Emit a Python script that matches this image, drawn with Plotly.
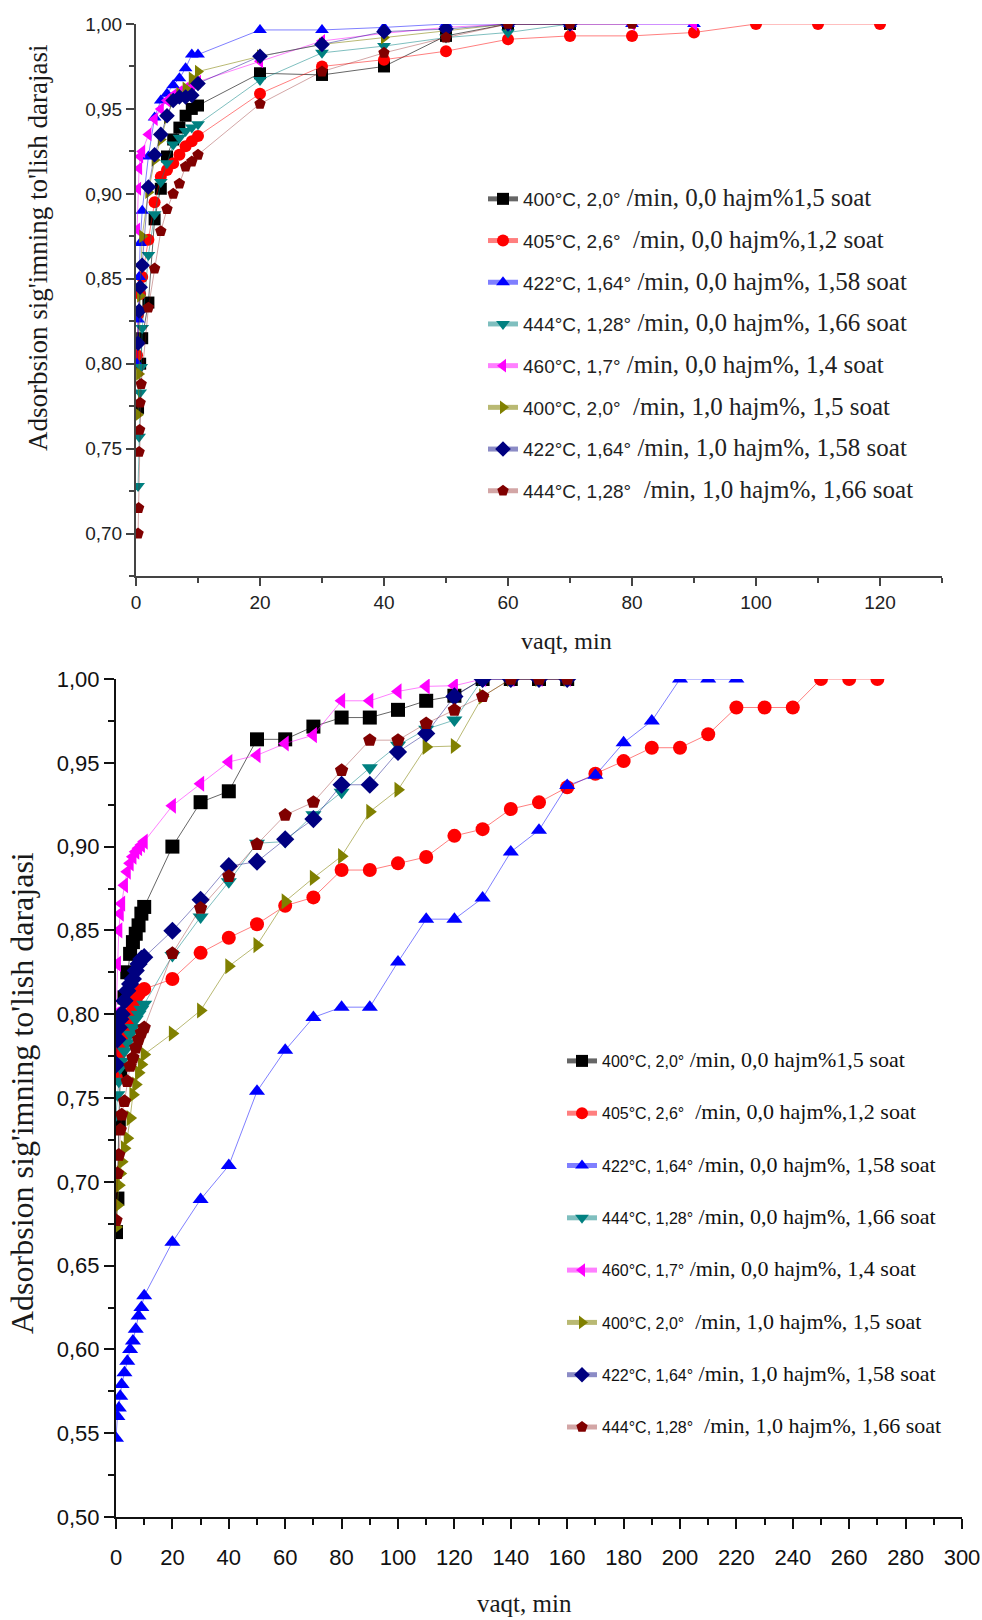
import plotly.graph_objects as go

# ---------------- data : top panel ----------------
t_black_x = [0.33, 0.67, 1, 2, 3, 4, 5, 6, 7, 8, 9, 10, 20, 30, 40, 50, 60, 70]
t_black_y = [0.774, 0.800, 0.815, 0.836, 0.885, 0.903, 0.922, 0.932, 0.939, 0.946, 0.950, 0.952, 0.971, 0.970, 0.975, 0.993, 1.0, 1.0]
t_red_x = [0.17, 0.33, 0.67, 1, 2, 3, 4, 5, 6, 7, 8, 9, 10, 20, 30, 40, 50, 60, 70, 80, 90, 100, 110, 120]
t_red_y = [0.805, 0.829, 0.841, 0.851, 0.873, 0.895, 0.910, 0.914, 0.918, 0.923, 0.928, 0.931, 0.934, 0.959, 0.975, 0.979, 0.984, 0.991, 0.993, 0.993, 0.995, 1.0, 1.0, 1.0]
t_blue_x = [0.17, 0.33, 0.5, 0.67, 1, 2, 3, 4, 5, 6, 7, 8, 9, 10, 20, 30, 40, 50, 60, 70, 80, 90]
t_blue_y = [0.800, 0.826, 0.851, 0.871, 0.890, 0.922, 0.945, 0.955, 0.959, 0.964, 0.968, 0.974, 0.982, 0.982, 0.9965, 0.9965, 0.998, 1.0, 1.0, 1.0, 1.0, 1.0]
t_teal_x = [0.33, 0.5, 0.67, 0.83, 1, 2, 3, 4, 5, 6, 7, 8, 9, 10, 20, 30, 40, 50, 60, 70]
t_teal_y = [0.728, 0.757, 0.783, 0.798, 0.821, 0.864, 0.888, 0.907, 0.918, 0.929, 0.933, 0.937, 0.939, 0.941, 0.967, 0.983, 0.987, 0.992, 0.995, 1.0]
t_mag_x = [0.17, 0.33, 0.5, 0.67, 1, 2, 3, 4, 5, 6, 7, 8, 9, 10, 20, 30, 40, 50, 60, 70, 80, 90]
t_mag_y = [0.879, 0.903, 0.915, 0.922, 0.925, 0.935, 0.944, 0.950, 0.955, 0.958, 0.960, 0.962, 0.964, 0.966, 0.978, 0.990, 0.9945, 0.998, 1.0, 1.0, 1.0, 1.0]
t_olive_x = [0.33, 0.5, 0.67, 1, 2, 3, 4, 5, 6, 7, 8, 9, 10, 20, 30, 40, 50, 60, 70]
t_olive_y = [0.770, 0.794, 0.840, 0.875, 0.901, 0.920, 0.932, 0.945, 0.955, 0.959, 0.962, 0.968, 0.972, 0.981, 0.988, 0.992, 0.996, 1.0, 1.0]
t_navy_x = [0.33, 0.5, 0.67, 1, 2, 3, 4, 5, 6, 7, 8, 9, 10, 20, 30, 40, 50, 60, 70]
t_navy_y = [0.812, 0.831, 0.845, 0.858, 0.904, 0.923, 0.935, 0.946, 0.955, 0.957, 0.957, 0.958, 0.965, 0.981, 0.988, 0.9955, 0.997, 1.0, 1.0]
t_brown_x = [0.33, 0.42, 0.5, 0.58, 0.67, 0.83, 2, 3, 4, 5, 6, 7, 8, 9, 10, 20, 30, 40, 50, 60, 70, 80]
t_brown_y = [0.700, 0.715, 0.748, 0.761, 0.777, 0.788, 0.833, 0.856, 0.878, 0.891, 0.900, 0.906, 0.916, 0.919, 0.923, 0.953, 0.972, 0.983, 0.992, 1.0, 1.0, 1.0]

# ---------------- data : bottom panel ----------------
b_x160 = [0, 0.5, 1, 1.5, 2, 3, 4, 5, 6, 7, 8, 9, 10, 20, 30, 40, 50, 60, 70, 80, 90, 100, 110, 120, 130, 140, 150, 160]
b_x220 = [0, 0.5, 1, 1.5, 2, 3, 4, 5, 6, 7, 8, 9, 10, 20, 30, 40, 50, 60, 70, 80, 90, 100, 110, 120, 130, 140, 150, 160,
          170, 180, 190, 200, 210, 220]
b_x270 = [0, 0.5, 1, 1.5, 2, 3, 4, 5, 6, 7, 8, 9, 10, 20, 30, 40, 50, 60, 70, 80, 90, 100, 110, 120, 130, 140, 150, 160,
          170, 180, 190, 200, 210, 220, 230, 240, 250, 260, 270]
b_black_y = [0.670, 0.690, 0.735, 0.765, 0.790, 0.810, 0.825, 0.836, 0.843, 0.848, 0.853, 0.860, 0.864,
             0.900, 0.9265, 0.933, 0.964, 0.964, 0.9716, 0.977, 0.977, 0.9816, 0.987, 0.990, 1.0, 1.0, 1.0, 1.0]
b_red_y = [0.762, 0.770, 0.776, 0.780, 0.785, 0.790, 0.795, 0.800, 0.805, 0.809, 0.812, 0.814, 0.815,
           0.821, 0.8366, 0.8456, 0.8537, 0.8647, 0.8697, 0.886, 0.886, 0.890, 0.8938, 0.9064, 0.9104, 0.9224, 0.9264,
           0.9354, 0.9435, 0.951, 0.959, 0.959, 0.967, 0.983, 0.983, 0.983, 1.0, 1.0, 1.0]
b_blue_y = [0.547, 0.560, 0.565, 0.572, 0.579, 0.586, 0.593, 0.600, 0.605, 0.612, 0.620, 0.625, 0.632,
            0.664, 0.6895, 0.7097, 0.754, 0.7785, 0.7981, 0.8042, 0.8042, 0.8312, 0.8567, 0.8567, 0.8693, 0.8968,
            0.9098, 0.9364, 0.9425, 0.962, 0.975, 1.0, 1.0, 1.0]
b_teal_y = [0.740, 0.752, 0.760, 0.768, 0.772, 0.778, 0.783, 0.788, 0.792, 0.797, 0.800, 0.803, 0.806,
            0.835, 0.858, 0.879, 0.902, 0.903, 0.919, 0.9325, 0.947, 0.9605, 0.970, 0.9755, 1.0, 1.0, 1.0, 1.0]
b_mag_y = [0.800, 0.830, 0.850, 0.860, 0.866, 0.877, 0.885, 0.890, 0.894, 0.897, 0.899, 0.901, 0.903,
           0.9244, 0.9375, 0.9505, 0.9545, 0.9615, 0.9665, 0.987, 0.987, 0.9926, 0.9956, 0.996, 1.0, 1.0, 1.0, 1.0]
b_olive_y = [0.673, 0.686, 0.698, 0.705, 0.712, 0.720, 0.726, 0.738, 0.752, 0.758, 0.765, 0.770, 0.776,
             0.7885, 0.8022, 0.8286, 0.8412, 0.8673, 0.8813, 0.8943, 0.9208, 0.9339, 0.9595, 0.960, 0.9896, 1.0, 1.0, 1.0]
b_navy_y = [0.770, 0.785, 0.792, 0.797, 0.800, 0.808, 0.814, 0.818, 0.821, 0.826, 0.830, 0.833, 0.834,
            0.8498, 0.8683, 0.8883, 0.891, 0.9044, 0.9164, 0.9369, 0.9369, 0.9565, 0.9675, 0.9896, 1.0, 1.0, 1.0, 1.0]
b_brown_y = [0.677, 0.705, 0.716, 0.731, 0.740, 0.748, 0.760, 0.769, 0.774, 0.780, 0.785, 0.789, 0.792,
             0.8363, 0.8633, 0.8823, 0.9014, 0.9188, 0.9265, 0.9455, 0.9635, 0.9635, 0.9735, 0.9815, 0.9896, 1.0, 1.0, 1.0]

# ---------------- labels ----------------
legend_head = ["400°C, 2,0°", "405°C, 2,6°", "422°C, 1,64°", "444°C, 1,28°",
               "460°C, 1,7°", "400°C, 2,0°", "422°C, 1,64°", "444°C, 1,28°"]
legend_tail = [" /min, 0,0 hajm%1,5 soat", "\u00a0 /min, 0,0 hajm%,1,2 soat", " /min, 0,0 hajm%, 1,58 soat",
               " /min, 0,0 hajm%, 1,66 soat", " /min, 0,0 hajm%, 1,4 soat", "\u00a0 /min, 1,0 hajm%, 1,5 soat",
               " /min, 1,0 hajm%, 1,58 soat", "\u00a0 /min, 1,0 hajm%, 1,66 soat"]
y_title = "Adsorbsion sig'imning to'lish darajasi"
x_title = "vaqt, min"
top_xticks = [0, 20, 40, 60, 80, 100, 120]
top_xticktext = ["0", "20", "40", "60", "80", "100", "120"]
top_yticks = [0.70, 0.75, 0.80, 0.85, 0.90, 0.95, 1.00]
top_yticktext = ["0,70", "0,75", "0,80", "0,85", "0,90", "0,95", "1,00"]
bot_xticks = [0, 20, 40, 60, 80, 100, 120, 140, 160, 180, 200, 220, 240, 260, 280, 300]
bot_xticktext = ["0", "20", "40", "60", "80", "100", "120", "140", "160", "180", "200", "220", "240", "260", "280", "300"]
bot_yticks = [0.50, 0.55, 0.60, 0.65, 0.70, 0.75, 0.80, 0.85, 0.90, 0.95, 1.00]
bot_yticktext = ["0,50", "0,55", "0,60", "0,65", "0,70", "0,75", "0,80", "0,85", "0,90", "0,95", "1,00"]

# ---------------- styles ----------------
COLORS = ["#000000", "#FF0000", "#0000FF", "#008080", "#FF00FF", "#808000", "#000080", "#800000"]
LINECOLORS = ["rgba(0,0,0,0.6)", "rgba(255,0,0,0.5)", "rgba(0,0,255,0.5)", "rgba(0,128,128,0.5)",
              "rgba(255,0,255,0.5)", "rgba(128,128,0,0.55)", "rgba(0,0,128,0.45)", "rgba(128,0,0,0.35)"]
SYMBOLS = ["square", "circle", "triangle-up", "triangle-down", "triangle-left", "triangle-right", "diamond", "pentagon"]
SANS = "Liberation Sans, Arial, sans-serif"
SERIF = "Liberation Serif, Times New Roman, serif"

top_series = [(t_black_x, t_black_y), (t_red_x, t_red_y), (t_blue_x, t_blue_y), (t_teal_x, t_teal_y),
              (t_mag_x, t_mag_y), (t_olive_x, t_olive_y), (t_navy_x, t_navy_y), (t_brown_x, t_brown_y)]
bot_series = [(b_x160, b_black_y), (b_x270, b_red_y), (b_x220, b_blue_y), (b_x160, b_teal_y),
              (b_x160, b_mag_y), (b_x160, b_olive_y), (b_x160, b_navy_y), (b_x160, b_brown_y)]

fig = go.Figure()
for i, (xs, ys) in enumerate(top_series):
    name = (legend_head[i] + '<span style="font-family:Liberation Serif;font-size:25px">'
            + legend_tail[i] + '</span>')
    fig.add_trace(go.Scatter(
        x=xs, y=ys, mode="lines+markers", name=name, xaxis="x", yaxis="y",
        legend="legend", legendgroup=f"t{i}",
        line=dict(color=LINECOLORS[i], width=1),
        marker=dict(symbol=SYMBOLS[i], size=12, color=COLORS[i], line=dict(width=0)),
    ))
for i, (xs, ys) in enumerate(bot_series):
    name = (legend_head[i] + '<span style="font-family:Liberation Serif;font-size:22px">'
            + legend_tail[i] + '</span>')
    fig.add_trace(go.Scatter(
        x=xs, y=ys, mode="lines+markers", name=name, xaxis="x2", yaxis="y2",
        legend="legend2", legendgroup=f"b{i}",
        line=dict(color=LINECOLORS[i], width=1),
        marker=dict(symbol=SYMBOLS[i], size=14, color=COLORS[i], line=dict(width=0)),
    ))

W, H = 982, 1620
AX = "#444444"

def px_x(p):
    return p / W

def px_y(p):
    return 1 - p / H

common_axis = dict(showline=True, linewidth=2, ticks="outside", tickwidth=2, automargin=False,
                   showgrid=False, zeroline=False, mirror=False, tickmode="array")

fig.update_layout(
    template="none",
    width=W, height=H, margin=dict(l=0, r=0, t=0, b=0, autoexpand=False),
    paper_bgcolor="white", plot_bgcolor="white",
    font=dict(family=SANS, size=19, color="#222222"),
    xaxis=dict(domain=[px_x(136), px_x(942)], range=[0, 130], anchor="y",
               linecolor=AX, tickcolor=AX, ticklen=8,
               tickvals=top_xticks, ticktext=top_xticktext,
               tickfont=dict(family=SANS, size=19, color="#222222"),
               minor=dict(ticks="outside", ticklen=5, tickwidth=2, tickcolor=AX,
                          tickvals=[10, 30, 50, 70, 90, 110, 130]),
               **common_axis),
    yaxis=dict(domain=[px_y(576), px_y(24)], range=[0.675, 1.0], anchor="x",
               linecolor=AX, tickcolor=AX, ticklen=8,
               tickvals=top_yticks, ticktext=top_yticktext,
               tickfont=dict(family=SANS, size=19, color="#222222"),
               minor=dict(ticks="outside", ticklen=5, tickwidth=2, tickcolor=AX,
                          tickvals=[0.675, 0.725, 0.775, 0.825, 0.875, 0.925, 0.975]),
               **common_axis),
    xaxis2=dict(domain=[px_x(116), px_x(962)], range=[0, 300], anchor="y2",
                linecolor="#111111", tickcolor="#111111", ticklen=10, ticklabelstandoff=10,
                tickvals=bot_xticks, ticktext=bot_xticktext,
                tickfont=dict(family=SANS, size=22, color="#111111"),
                minor=dict(ticks="outside", ticklen=6, tickwidth=2, tickcolor="#111111",
                           tickvals=[10, 30, 50, 70, 90, 110, 130, 150, 170, 190, 210, 230, 250, 270, 290]),
                **common_axis),
    yaxis2=dict(domain=[px_y(1517), px_y(679)], range=[0.5, 1.0], anchor="x2",
                linecolor="#111111", tickcolor="#111111", ticklen=10,
                tickvals=bot_yticks, ticktext=bot_yticktext,
                tickfont=dict(family=SANS, size=22, color="#111111"),
                minor=dict(ticks="outside", ticklen=6, tickwidth=2, tickcolor="#111111",
                           tickvals=[0.525, 0.575, 0.625, 0.675, 0.725, 0.775, 0.825, 0.875, 0.925, 0.975]),
                **common_axis),
    legend=dict(x=px_x(483), y=px_y(180), xanchor="left", yanchor="top",
                bgcolor="rgba(0,0,0,0)", borderwidth=0, tracegroupgap=14,
                font=dict(family=SANS, size=19, color="#222222"), itemsizing="constant"),
    legend2=dict(x=px_x(562), y=px_y(1044), xanchor="left", yanchor="top",
                 bgcolor="rgba(0,0,0,0)", borderwidth=0, tracegroupgap=28.5,
                 font=dict(family=SANS, size=16, color="#111111"), itemsizing="constant"),
    showlegend=True,
    annotations=[
        dict(text=y_title, x=px_x(38), y=px_y(248), xref="paper", yref="paper", showarrow=False,
             xanchor="center", yanchor="middle",
             textangle=-90, font=dict(family=SERIF, size=27, color="#1a1a1a")),
        dict(text=x_title, x=px_x(566), y=px_y(641), xref="paper", yref="paper", showarrow=False,
             xanchor="center", yanchor="middle",
             font=dict(family=SERIF, size=24, color="#1a1a1a")),
        dict(text=y_title, x=px_x(22), y=px_y(1093), xref="paper", yref="paper", showarrow=False,
             xanchor="center", yanchor="middle",
             textangle=-90, font=dict(family=SERIF, size=32, color="#1a1a1a")),
        dict(text=x_title, x=px_x(524), y=px_y(1603), xref="paper", yref="paper", showarrow=False,
             xanchor="center", yanchor="middle",
             font=dict(family=SERIF, size=25, color="#1a1a1a")),
    ],
)

fig.write_html("out.html")
